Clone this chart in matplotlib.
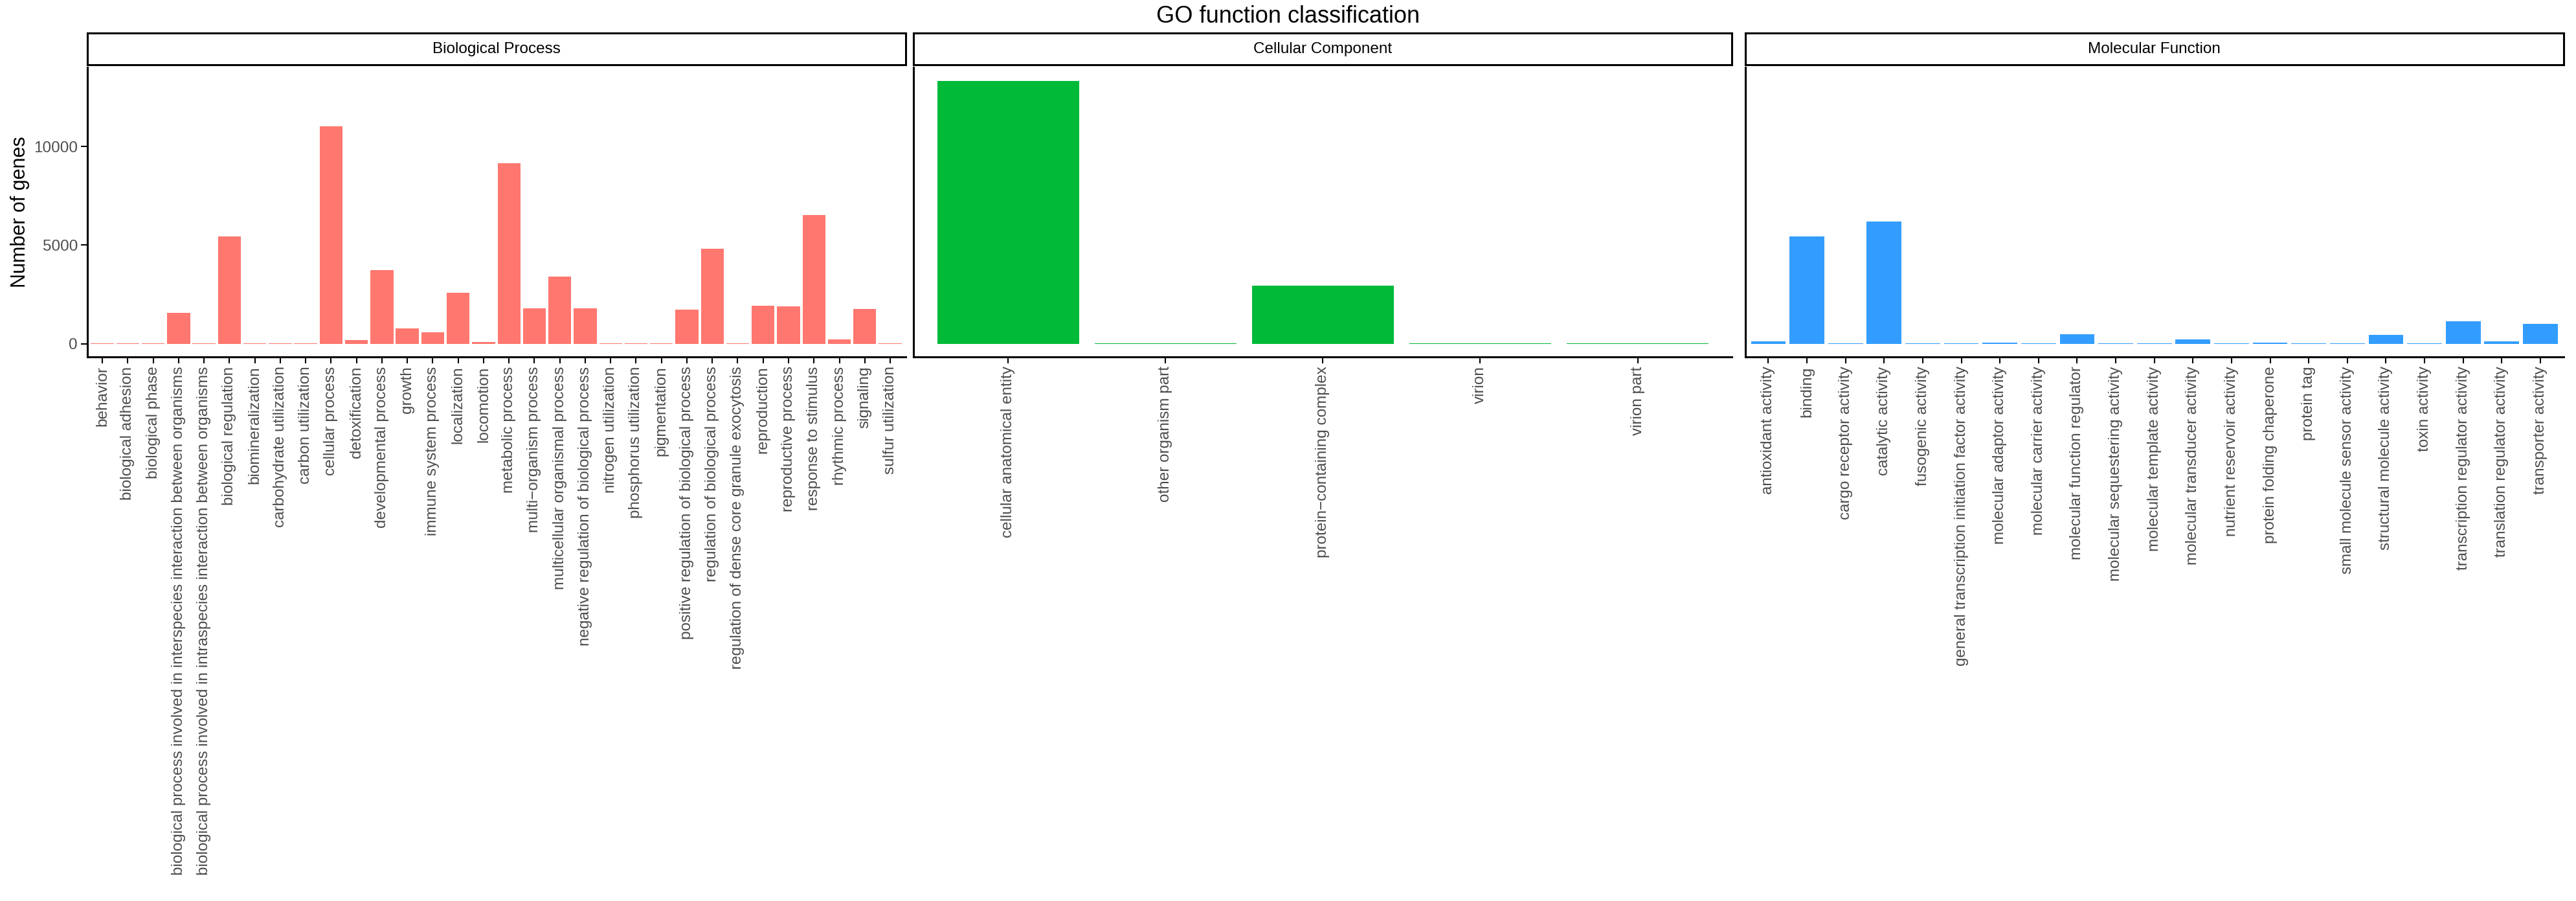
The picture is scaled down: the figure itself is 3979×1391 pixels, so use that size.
import matplotlib
matplotlib.use("Agg")
import matplotlib.pyplot as plt

plt.rcParams['font.family'] = ['Liberation Sans', 'DejaVu Sans']

bp_labels = ["behavior", "biological adhesion", "biological phase",
    "biological process involved in interspecies interaction between organisms",
    "biological process involved in intraspecies interaction between organisms",
    "biological regulation", "biomineralization", "carbohydrate utilization", "carbon utilization",
    "cellular process", "detoxification", "developmental process", "growth", "immune system process",
    "localization", "locomotion", "metabolic process", "multi\u2212organism process",
    "multicellular organismal process", "negative regulation of biological process",
    "nitrogen utilization", "phosphorus utilization", "pigmentation",
    "positive regulation of biological process", "regulation of biological process",
    "regulation of dense core granule exocytosis", "reproduction", "reproductive process",
    "response to stimulus", "rhythmic process", "signaling", "sulfur utilization"]
bp_values = [10, 15, 5, 1547, 20, 5447, 1, 1, 2, 11013, 185, 3715, 773, 566, 2582, 87, 9150,
    1786, 3399, 1776, 3, 1, 10, 1721, 4815, 1, 1917, 1906, 6536, 229, 1765, 1]

cc_labels = ["cellular anatomical entity", "other organism part", "protein\u2212containing complex",
    "virion", "virion part"]
cc_values = [13333, 2, 2930, 1, 1]

mf_labels = ["antioxidant activity", "binding", "cargo receptor activity", "catalytic activity",
    "fusogenic activity", "general transcription initiation factor activity",
    "molecular adaptor activity", "molecular carrier activity", "molecular function regulator",
    "molecular sequestering activity", "molecular template activity", "molecular transducer activity",
    "nutrient reservoir activity", "protein folding chaperone", "protein tag",
    "small molecule sensor activity", "structural molecule activity", "toxin activity",
    "transcription regulator activity", "translation regulator activity", "transporter activity"]
mf_values = [131, 5447, 2, 6209, 1, 1, 54, 20, 468, 3, 2, 207, 20, 54, 1, 2, 457, 1, 1133, 120, 991]

panels = [("Biological Process", bp_labels, bp_values, "#FF776F"),
          ("Cellular Component", cc_labels, cc_values, "#00BA38"),
          ("Molecular Function", mf_labels, mf_values, "#339DFF")]

fig = plt.figure(figsize=(39.8, 13.91), dpi=100)
lefts = [0.0338, 0.3546, 0.6773]
w = 0.3176
bottom, top = 0.604, 0.925
for i, (name, labs, vals, col) in enumerate(panels):
    ax = fig.add_axes([lefts[i], bottom, w, top - bottom])
    x = list(range(len(labs)))
    ax.bar(x, vals, width=0.9, color=col, linewidth=0, antialiased=False)
    ax.set_xlim(-0.6, len(labs) - 0.4)
    ax.set_ylim(-667, 14000)
    ax.set_xticks(x)
    ax.set_xticklabels(labs, rotation=90, fontsize=17.5, color="#4d4d4d")
    ax.tick_params(width=1.5, length=7)
    ax.set_yticks([0, 5000, 10000])
    if i == 0:
        ax.set_yticklabels(["0", "5000", "10000"], fontsize=17.5, color="#4d4d4d")
        ax.set_ylabel("Number of genes", fontsize=22)
    else:
        ax.set_yticklabels([])
        ax.tick_params(axis="y", length=0)
    for s in ["top", "right"]:
        ax.spines[s].set_visible(False)
    for s in ["left", "bottom"]:
        ax.spines[s].set_linewidth(2.2)
    sax = fig.add_axes([lefts[i], 0.928, w, 0.035])
    sax.set_xticks([]); sax.set_yticks([])
    for s in sax.spines.values():
        s.set_linewidth(2.2)
    sax.text(0.5, 0.5, name, ha="center", va="center", fontsize=17.5, transform=sax.transAxes)

fig.text(0.5, 0.982, "GO function classification", ha="center", va="center", fontsize=26)
fig.savefig("out.png", dpi=100)
